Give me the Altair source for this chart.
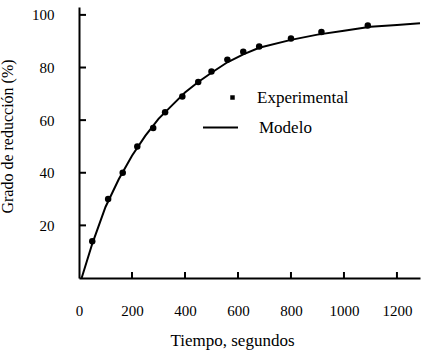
import altair as alt
import pandas as pd

# Experimental points
exp_t = [50, 110, 165, 220, 280, 325, 390, 450, 500, 560, 620, 680, 800, 915, 1090]
exp_v = [14, 30, 40, 50, 57, 63, 69, 74.5, 78.5, 83, 86, 88, 91, 93.5, 96]

# Model curve
mod_t = [10, 50, 100, 150, 200, 250, 300, 350, 400, 450, 500, 560, 620, 680, 800, 900, 1000, 1100, 1200, 1287]
mod_v = [0, 13, 27, 37.5, 46.5, 54, 60.5, 65.5, 70.5, 74.5, 78, 82, 85, 87.5, 90.5, 92.5, 94, 95.5, 96.2, 96.8]

x_ticks = [0, 200, 400, 600, 800, 1000, 1200]
y_ticks = [20, 40, 60, 80, 100]

FONT = "Liberation Serif"
WEIGHT = "normal"
W, H = 341, 271

exp_df = pd.DataFrame({"t": exp_t, "v": exp_v, "s": "Experimental"})
mod_df = pd.DataFrame({"t": mod_t, "v": mod_v, "s": "Modelo"})
xt_df = pd.DataFrame({"t": x_ticks[1:]})
yt_df = pd.DataFrame({"v": y_ticks})

xscale = alt.Scale(domain=[0, 1287], nice=False, zero=False)
yscale = alt.Scale(domain=[0, 103], nice=False)

xaxis = alt.Axis(values=x_ticks, format="d", title="Tiempo, segundos", grid=False, ticks=False, tickSize=0,
                 domainColor="black", domainWidth=2, labelFont=FONT, labelFontSize=15,
                 labelFontWeight=WEIGHT, labelColor="black", labelPadding=25, labelFlush=False,
                 titleFont=FONT, titleFontSize=17, titleFontWeight=WEIGHT, titleColor="black",
                 titlePadding=14, titleX=153)
yaxis = alt.Axis(values=y_ticks, format="d", title="Grado de reducción (%)", grid=False, ticks=False, tickSize=0,
                 domainColor="black", domainWidth=2, labelFont=FONT, labelFontSize=15,
                 labelFontWeight=WEIGHT, labelColor="black", labelPadding=25,
                 titleFont=FONT, titleFontSize=16, titleFontWeight=WEIGHT, titleColor="black",
                 titlePadding=16, titleY=129)

points = alt.Chart(exp_df).mark_point(filled=True, size=42, opacity=1).encode(
    x=alt.X("t:Q", scale=xscale, axis=xaxis),
    y=alt.Y("v:Q", scale=yscale, axis=yaxis),
    color=alt.Color("s:N",
                    scale=alt.Scale(domain=["Experimental"], range=["black"]),
                    legend=alt.Legend(title=None, orient="none", legendX=145, legendY=82,
                                      symbolType="square", symbolSize=20, padding=0,
                                      labelFont=FONT, labelFontSize=17, labelFontWeight=WEIGHT,
                                      labelColor="black", labelOffset=16, symbolOpacity=1)),
)

line = alt.Chart(mod_df).mark_line(strokeWidth=2).encode(
    x=alt.X("t:Q", scale=xscale),
    y=alt.Y("v:Q", scale=yscale),
    stroke=alt.Stroke("s:N",
                      scale=alt.Scale(domain=["Modelo"], range=["black"]),
                      legend=alt.Legend(title=None, orient="none", legendX=123, legendY=102,
                                        symbolType="stroke", symbolSize=1225, symbolStrokeWidth=2,
                                        padding=0, labelFont=FONT, labelFontSize=17,
                                        labelFontWeight=WEIGHT, labelColor="black", labelOffset=20)),
)

xticks = alt.Chart(xt_df).mark_rule(color="black", strokeWidth=2).encode(
    x=alt.X("t:Q", scale=xscale), y=alt.value(H - 6), y2=alt.value(H)
)
yticks = alt.Chart(yt_df).mark_rule(color="black", strokeWidth=2).encode(
    y=alt.Y("v:Q", scale=yscale), x=alt.value(0), x2=alt.value(7)
)

chart = alt.layer(line, points, xticks, yticks).resolve_scale(color="independent", stroke="independent").properties(
    width=W, height=H,
    padding={"left": 79, "top": 7, "right": 4, "bottom": 74},
    autosize=alt.AutoSizeParams(type="none"),
    background="white",
).configure_view(stroke=None)

chart.save("out.html", embed_options={"renderer": "svg", "actions": False})
